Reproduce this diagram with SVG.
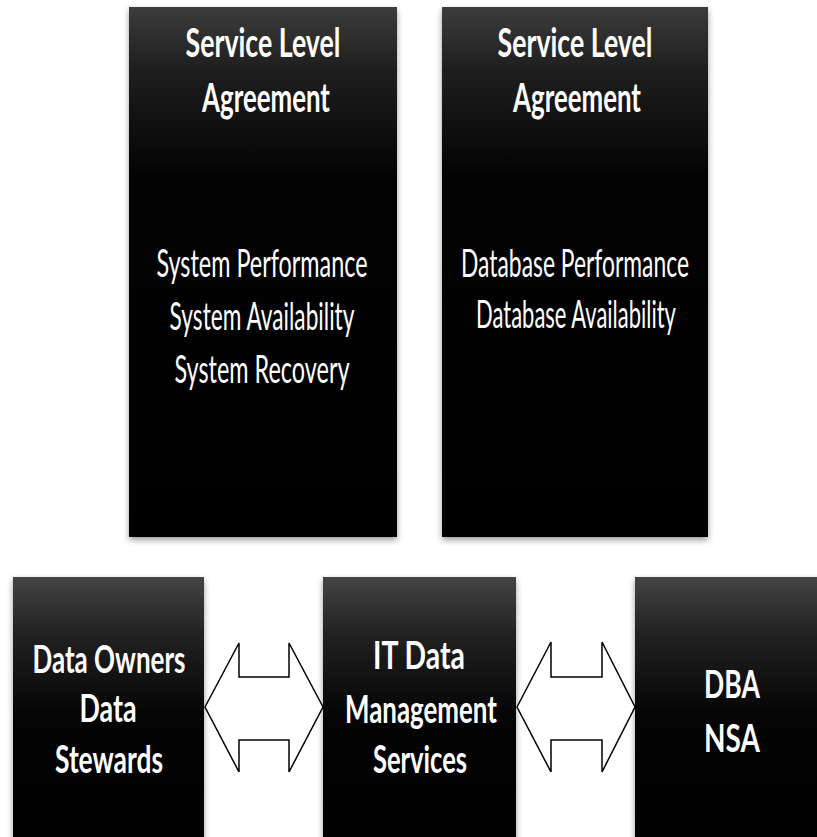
<svg xmlns="http://www.w3.org/2000/svg" width="817" height="837" viewBox="0 0 817 837">
<defs>
<linearGradient id="gTop" x1="0" y1="0" x2="0" y2="1">
<stop offset="0" stop-color="#3c3c3c"/>
<stop offset="0.12" stop-color="#1e1e1e"/>
<stop offset="0.32" stop-color="#030303"/>
<stop offset="1" stop-color="#000"/>
</linearGradient>
<linearGradient id="gBot" x1="0" y1="0" x2="0" y2="1">
<stop offset="0" stop-color="#444"/>
<stop offset="0.2" stop-color="#222"/>
<stop offset="0.5" stop-color="#040404"/>
<stop offset="1" stop-color="#000"/>
</linearGradient>
<filter id="blur" x="-20%" y="-20%" width="140%" height="140%">
<feGaussianBlur stdDeviation="3"/>
</filter>
</defs>
<style>
.shadow{fill:#000;opacity:0.4;filter:url(#blur)}
.t{fill:#fff;font-family:Lato,"Open Sans","DejaVu Sans",sans-serif;text-anchor:middle}
.b{font-weight:bold;font-size:40px}
.r{font-weight:normal;font-size:38px}
.bb{font-weight:bold;font-size:38px}
.arrow{fill:#fff;stroke:#000;stroke-width:1.5;stroke-linejoin:miter}
</style>

<g id="sla-system">
<rect class="shadow" x="129" y="10" width="268" height="530"/>
<rect x="129" y="7" width="268" height="530" fill="url(#gTop)"/>
<text class="t b" transform="translate(263,57) scale(0.6,1)" textLength="258" lengthAdjust="spacingAndGlyphs">Service Level</text>
<text class="t b" transform="translate(266,112) scale(0.6,1)" textLength="213" lengthAdjust="spacingAndGlyphs">Agreement</text>
<text class="t r" transform="translate(262,277) scale(0.6,1)" textLength="352" lengthAdjust="spacingAndGlyphs">System Performance</text>
<text class="t r" transform="translate(262,330) scale(0.6,1)" textLength="308" lengthAdjust="spacingAndGlyphs">System Availability</text>
<text class="t r" transform="translate(262,383) scale(0.6,1)" textLength="292" lengthAdjust="spacingAndGlyphs">System Recovery</text>
</g>

<g id="sla-database">
<rect class="shadow" x="442" y="10" width="266" height="530"/>
<rect x="442" y="7" width="266" height="530" fill="url(#gTop)"/>
<text class="t b" transform="translate(575,57) scale(0.6,1)" textLength="258" lengthAdjust="spacingAndGlyphs">Service Level</text>
<text class="t b" transform="translate(577,112) scale(0.6,1)" textLength="213" lengthAdjust="spacingAndGlyphs">Agreement</text>
<text class="t r" transform="translate(575,277) scale(0.6,1)" textLength="380" lengthAdjust="spacingAndGlyphs">Database Performance</text>
<text class="t r" transform="translate(576,328) scale(0.6,1)" textLength="333" lengthAdjust="spacingAndGlyphs">Database Availability</text>
</g>

<g id="data-owners">
<rect class="shadow" x="13" y="580" width="191" height="280"/>
<rect x="13" y="577" width="191" height="280" fill="url(#gBot)"/>
<text class="t bb" transform="translate(109,673) scale(0.6,1)" textLength="255" lengthAdjust="spacingAndGlyphs">Data Owners</text>
<text class="t bb" transform="translate(108,722) scale(0.6,1)" textLength="95" lengthAdjust="spacingAndGlyphs">Data</text>
<text class="t bb" transform="translate(109,773) scale(0.6,1)" textLength="180" lengthAdjust="spacingAndGlyphs">Stewards</text>
</g>

<g id="it-data-management">
<rect class="shadow" x="323" y="580" width="193" height="280"/>
<rect x="323" y="577" width="193" height="280" fill="url(#gBot)"/>
<text class="t bb" transform="translate(419,669) scale(0.6,1)" textLength="153" lengthAdjust="spacingAndGlyphs">IT Data</text>
<text class="t bb" transform="translate(421,723) scale(0.6,1)" textLength="253" lengthAdjust="spacingAndGlyphs">Management</text>
<text class="t bb" transform="translate(420,773) scale(0.6,1)" textLength="157" lengthAdjust="spacingAndGlyphs">Services</text>
</g>

<g id="dba-nsa">
<rect class="shadow" x="635" y="580" width="200" height="280"/>
<rect x="635" y="577" width="200" height="280" fill="url(#gBot)"/>
<text class="t bb" transform="translate(732,698) scale(0.6,1)" textLength="93" lengthAdjust="spacingAndGlyphs">DBA</text>
<text class="t bb" transform="translate(732,752) scale(0.6,1)" textLength="93" lengthAdjust="spacingAndGlyphs">NSA</text>
</g>

<g id="connectors">
<polygon class="arrow" points="205,707 239,643 239,677 289,677 289,643 323,707 289,772 289,740 239,740 239,772"/>
<polygon class="arrow" points="517,707 551,642 551,677 602,677 602,642 635,707 602,772 602,740 551,740 551,772"/>
</g>
</svg>
